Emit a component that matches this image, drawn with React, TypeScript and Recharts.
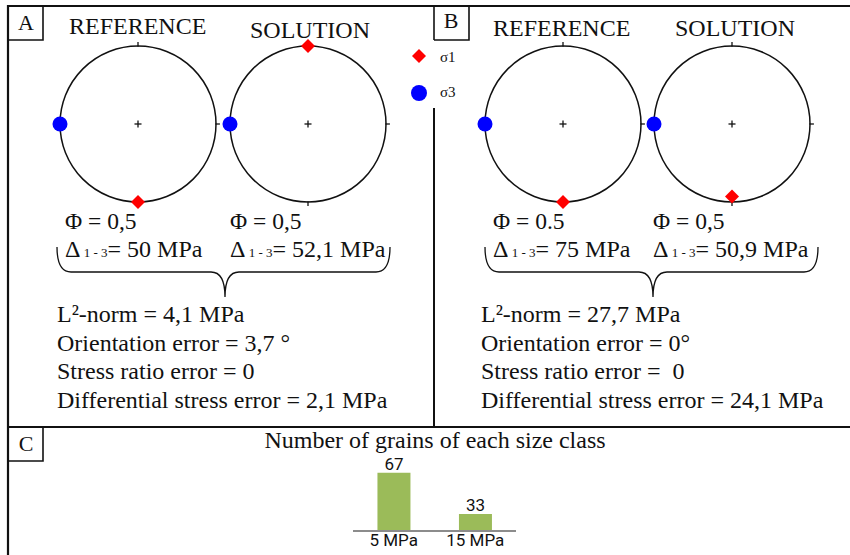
import React from 'react';
import {
  ScatterChart,
  Scatter,
  XAxis,
  YAxis,
  ReferenceDot,
  ReferenceLine,
  BarChart,
  Bar,
  LabelList,
} from 'recharts';

// Principal stress axes projected on the unit net (x = east, y = north)
const sigma1RefA = [{ x: 0, y: -1 }];
const sigma3RefA = [{ x: -1, y: 0 }];
const sigma1SolA = [{ x: 0, y: 1 }];
const sigma3SolA = [{ x: -1, y: 0 }];
const sigma1RefB = [{ x: 0, y: -1 }];
const sigma3RefB = [{ x: -1, y: 0 }];
const sigma1SolB = [{ x: 0, y: -0.93 }];
const sigma3SolB = [{ x: -1, y: 0 }];

const netTitles = ['REFERENCE', 'SOLUTION'];
const phiLabels = ['Φ = 0,5', 'Φ = 0,5', 'Φ = 0.5', 'Φ = 0,5'];
const deltaLabels = ['= 50 MPa', '= 52,1 MPa', '= 75 MPa', '= 50,9 MPa'];
const errorsA = [
  'L²-norm = 4,1 MPa',
  'Orientation error = 3,7 °',
  'Stress ratio error = 0',
  'Differential stress error = 2,1 MPa',
];
const errorsB = [
  'L²-norm = 27,7 MPa',
  'Orientation error = 0°',
  'Stress ratio error =  0',
  'Differential stress error = 24,1 MPa',
];

const sizeClasses = ['5 MPa', '15 MPa'];
const grainCounts = [67, 33];
const grainData = sizeClasses.map((c, i) => ({ sizeClass: c, count: grainCounts[i] }));

const SERIF = "'Liberation Serif', 'Times New Roman', serif";
const NARROW = "'Liberation Sans Narrow', 'Arial Narrow', Roboto, sans-serif";

const R = 78; // net radius in px
const PAD = 14;

const Diamond = (props: any) => {
  const { cx, cy } = props;
  const h = 7;
  return (
    <polygon
      points={`${cx},${cy - h} ${cx + h},${cy} ${cx},${cy + h} ${cx - h},${cy}`}
      fill="#ff0000"
    />
  );
};

const Disc = (props: any) => {
  const { cx, cy } = props;
  return <circle cx={cx} cy={cy} r={7.5} fill="#0000ff" />;
};

type NetProps = {
  cx: number;
  cy: number;
  s1: { x: number; y: number }[];
  s3: { x: number; y: number }[];
};

const Stereonet = ({ cx, cy, s1, s3 }: NetProps) => {
  const size = 2 * R + 2 * PAD;
  const t = 0.05;
  const c = 0.045;
  return (
    <div style={{ position: 'absolute', left: cx - size / 2, top: cy - size / 2 }}>
      <ScatterChart width={size} height={size} margin={{ top: PAD, right: PAD, bottom: PAD, left: PAD }}>
        <XAxis type="number" dataKey="x" domain={[-1, 1]} hide />
        <YAxis type="number" dataKey="y" domain={[-1, 1]} hide />
        <ReferenceDot x={0} y={0} r={R} fill="none" stroke="#111" strokeWidth={1.5} ifOverflow="visible" />
        <ReferenceLine segment={[{ x: 0, y: 1 - 0.01 }, { x: 0, y: 1 + t }]} stroke="#111" strokeWidth={1.3} ifOverflow="visible" />
        <ReferenceLine segment={[{ x: 1 - 0.01, y: 0 }, { x: 1 + t, y: 0 }]} stroke="#111" strokeWidth={1.3} ifOverflow="visible" />
        <ReferenceLine segment={[{ x: 0, y: -1 - t }, { x: 0, y: -1 + 0.01 }]} stroke="#111" strokeWidth={1.3} ifOverflow="visible" />
        <ReferenceLine segment={[{ x: -c, y: 0 }, { x: c, y: 0 }]} stroke="#111" strokeWidth={1.3} ifOverflow="visible" />
        <ReferenceLine segment={[{ x: 0, y: -c }, { x: 0, y: c }]} stroke="#111" strokeWidth={1.3} ifOverflow="visible" />
        <Scatter data={s3} shape={Disc} isAnimationActive={false} />
        <Scatter data={s1} shape={Diamond} isAnimationActive={false} />
      </ScatterChart>
    </div>
  );
};

const Brace = ({ x0, x1, xm }: { x0: number; x1: number; xm: number }) => (
  <path
    d={`M ${x0} 247 Q ${x0} 272 ${x0 + 14} 272 L ${xm - 14} 272 Q ${xm} 272 ${xm} 297 Q ${xm} 272 ${xm + 14} 272 L ${x1 - 14} 272 Q ${x1} 272 ${x1} 247`}
    fill="none"
    stroke="#111"
    strokeWidth={1.3}
  />
);

const StressText = ({ x, phi, delta }: { x: number; phi: string; delta: string }) => (
  <g fontFamily={SERIF} fill="#111">
    <text x={x} y={229} fontSize={23.5} style={{ whiteSpace: 'pre' }}>
      {phi}
    </text>
    <text x={x} y={257} fontSize={24} style={{ whiteSpace: 'pre' }}>
      Δ
      <tspan fontSize={13}> 1 - 3</tspan>
      <tspan fontSize={24}>{delta}</tspan>
    </text>
  </g>
);

const ErrorBlock = ({ x, lines }: { x: number; lines: string[] }) => (
  <g fontFamily={SERIF} fill="#111" fontSize={24}>
    {lines.map((l, i) => (
      <text key={i} x={x} y={322 + i * 28.5} style={{ whiteSpace: 'pre' }}>
        {l}
      </text>
    ))}
  </g>
);

const Overlay = () => (
  <svg width={850} height={555} style={{ position: 'absolute', left: 0, top: 0 }}>
    {/* frame */}
    <g stroke="#111" fill="none">
      <line x1={8} y1={6} x2={850} y2={6} strokeWidth={2.2} />
      <line x1={8} y1={5} x2={8} y2={555} strokeWidth={2.2} />
      <line x1={8} y1={427} x2={850} y2={427} strokeWidth={2.2} />
      <line x1={434} y1={6} x2={434} y2={40} strokeWidth={1.6} />
      <line x1={434} y1={108} x2={434} y2={427} strokeWidth={2} />
      <polyline points="8,40 43,40 43,6" strokeWidth={1.6} />
      <polyline points="434,40 469,40 469,6" strokeWidth={1.6} />
      <polyline points="8,461 43,461 43,427" strokeWidth={1.6} />
    </g>
    <g fontFamily={SERIF} fill="#111" fontSize={22} textAnchor="middle">
      <text x={26} y={30}>A</text>
      <text x={451} y={28}>B</text>
      <text x={26} y={451}>C</text>
    </g>
    {/* panel titles */}
    <g fontFamily={SERIF} fill="#111" fontSize={24}>
      <text x={69} y={34}>{netTitles[0]}</text>
      <text x={250} y={38}>{netTitles[1]}</text>
      <text x={493} y={36}>{netTitles[0]}</text>
      <text x={675} y={36}>{netTitles[1]}</text>
    </g>
    {/* legend */}
    <polygon points="419,49 426,56 419,63 412,56" fill="#ff0000" />
    <circle cx={419} cy={93} r={8} fill="#0000ff" />
    <g fontFamily={SERIF} fill="#111" fontSize={15}>
      <text x={440} y={62}>σ1</text>
      <text x={440} y={97}>σ3</text>
    </g>
    <StressText x={65} phi={phiLabels[0]} delta={deltaLabels[0]} />
    <StressText x={230} phi={phiLabels[1]} delta={deltaLabels[1]} />
    <StressText x={493} phi={phiLabels[2]} delta={deltaLabels[2]} />
    <StressText x={653} phi={phiLabels[3]} delta={deltaLabels[3]} />
    <Brace x0={57} x1={390} xm={225} />
    <Brace x0={485} x1={818} xm={653} />
    <ErrorBlock x={57} lines={errorsA} />
    <ErrorBlock x={481} lines={errorsB} />
    <text x={435} y={448} fontFamily={SERIF} fontSize={24} fill="#111" textAnchor="middle">
      Number of grains of each size class
    </text>
  </svg>
);

const GrainBars = () => (
  <div style={{ position: 'absolute', left: 353, top: 440 }}>
    <BarChart width={163} height={115} data={grainData} margin={{ top: 17, right: 0, bottom: 0, left: 0 }} barCategoryGap="30%">
      <XAxis
        dataKey="sizeClass"
        height={24}
        axisLine={{ stroke: '#8c8c8c', strokeWidth: 2 }}
        tickLine={false}
        tickSize={2}
        tickMargin={1}
        interval={0}
        tick={{ fill: '#111', fontSize: 17, fontFamily: NARROW }}
      />
      <YAxis type="number" domain={[19, 80]} hide allowDataOverflow />
      <Bar dataKey="count" fill="#9bbb59" isAnimationActive={false}>
        <LabelList dataKey="count" position="top" offset={3} fill="#111" fontSize={17} fontFamily={NARROW} />
      </Bar>
    </BarChart>
  </div>
);

export default function App() {
  return (
    <div style={{ position: 'absolute', left: 0, top: 0, width: 850, height: 555, background: '#fff', overflow: 'hidden' }}>
      <Overlay />
      <Stereonet cx={137.5} cy={124} s1={sigma1RefA} s3={sigma3RefA} />
      <Stereonet cx={308} cy={124} s1={sigma1SolA} s3={sigma3SolA} />
      <Stereonet cx={563} cy={124} s1={sigma1RefB} s3={sigma3RefB} />
      <Stereonet cx={731.5} cy={124} s1={sigma1SolB} s3={sigma3SolB} />
      <GrainBars />
    </div>
  );
}
